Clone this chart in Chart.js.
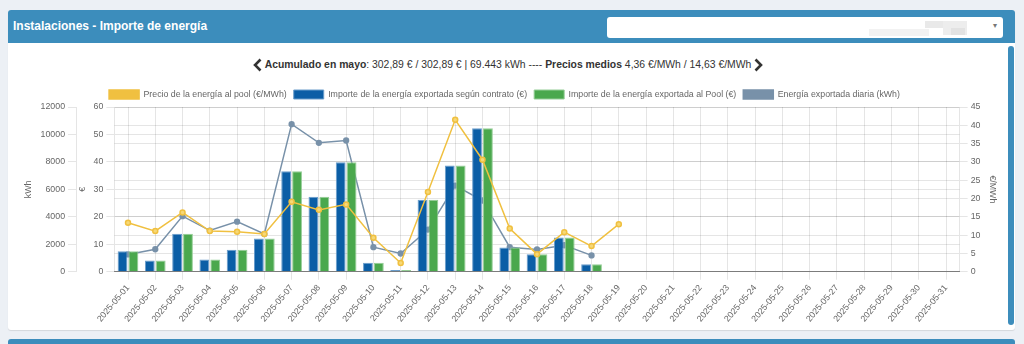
<!DOCTYPE html>
<html>
<head>
<meta charset="utf-8">
<script src="https://cdn.jsdelivr.net/npm/chart.js@4/dist/chart.umd.min.js"></script>
<style>
  body { margin: 0; background: #ecf0f5; font-family: 'Liberation Sans', Arial, sans-serif; width: 1024px; height: 344px; overflow: hidden; position: relative; }
  .box { position: absolute; left: 8px; top: 10px; width: 1007px; height: 320px; background: #fff; border-radius: 3px; box-shadow: 0 1px 1px rgba(0,0,0,0.1); }
  .box-header { height: 33px; background: #3c8dbc; border-radius: 3px 3px 0 0; position: relative; }
  .box-title { position: absolute; left: 5px; top: 9px; color: #fff; font-weight: bold; font-size: 12px; }
  .select { position: absolute; left: 599px; top: 7px; width: 396px; height: 21px; background: #fff; border-radius: 3px; }
  .select .caret { position: absolute; right: 6px; top: 4px; font-size: 8px; color: #777; }
  .blur { position: absolute; top: 4px; height: 7px; background: #e4e4e4; }
  .scroll { position: absolute; left: 1000px; top: 36px; width: 6px; height: 279px; background: #3c8dbc; border-radius: 3px; }
  .summary { position: absolute; left: 0; top: 48px; width: 1000px; text-align: center; font-size: 10.4px; color: #333; }
  .summary svg { vertical-align: -4px; margin: 0 3px; }
  .next-box { position: absolute; left: 8px; top: 339px; width: 1007px; height: 20px; background: #3c8dbc; border-radius: 3px; }
  #wrap { position: absolute; left: 8px; top: 81px; width: 1000px; height: 246px; }
</style>
</head>
<body>
<div class="box">
  <div class="box-header">
    <div class="box-title">Instalaciones - Importe de energía</div>
    <div class="select">
      <div class="blur" style="left:262px;width:60px;top:12px;background:#f2f2f2"></div>
      <div class="blur" style="left:318px;width:18px;background:#e9e9e9"></div>
      <div class="blur" style="left:336px;width:24px;height:14px;background:#ededed"></div>
      <div class="blur" style="left:344px;width:14px;top:11px;background:#e2e2e2"></div>
      <div class="caret">&#9662;</div>
    </div>
  </div>
  <div class="summary">
    <svg width="9" height="14" viewBox="0 0 9 14"><polyline points="7.5,1.5 2,7 7.5,12.5" fill="none" stroke="#333" stroke-width="2.6"/></svg><b>Acumulado en mayo</b>: 302,89 € / 302,89 € | 69.443 kWh ---- <b>Precios medios</b> 4,36 €/MWh / 14,63 €/MWh<svg width="9" height="14" viewBox="0 0 9 14"><polyline points="1.5,1.5 7,7 1.5,12.5" fill="none" stroke="#333" stroke-width="2.6"/></svg>
  </div>
  <div class="scroll"></div>
</div>
<div class="next-box"></div>
<div id="wrap"><canvas id="energyChart"></canvas></div>
<script>
const days = [
  '2025-05-01', '2025-05-02', '2025-05-03', '2025-05-04', '2025-05-05', '2025-05-06', '2025-05-07', '2025-05-08',
  '2025-05-09', '2025-05-10', '2025-05-11', '2025-05-12', '2025-05-13', '2025-05-14', '2025-05-15', '2025-05-16',
  '2025-05-17', '2025-05-18', '2025-05-19', '2025-05-20', '2025-05-21', '2025-05-22', '2025-05-23', '2025-05-24',
  '2025-05-25', '2025-05-26', '2025-05-27', '2025-05-28', '2025-05-29', '2025-05-30', '2025-05-31'
];

// €/MWh, pool price per day
const poolPrice = [13.4, 11.1, 16.2, 11.1, 10.9, 10.3, 19.1, 16.9, 18.4, 9.3, 2.4, 21.8, 41.5, 30.6, 11.8, 4.8, 10.8, 7.0, 13.0];

// € per day
const amountContract = [7.5, 4.1, 13.8, 4.5, 8.0, 12.1, 36.6, 27.3, 39.9, 3.3, 0.6, 26.2, 38.7, 52.3, 8.8, 6.4, 12.5, 2.7];
const amountPool = [7.5, 4.1, 13.8, 4.5, 8.0, 12.1, 36.6, 27.3, 39.9, 3.3, 0.6, 26.2, 38.7, 52.3, 8.8, 6.4, 12.5, 2.7];

// kWh exported per day
const energyKwh = [1260, 1640, 4050, 3000, 3650, 2750, 10750, 9390, 9560, 1790, 1330, 3070, 6280, 5190, 1790, 1620, 1930, 1190];

const tickFont = { family: "'Liberation Sans', Arial, sans-serif", size: 8.8 };
const gridColor = 'rgba(0,0,0,0.1)';

// nudge the legend a bit left and down after layout
const legendNudge = {
  id: 'legendNudge',
  afterLayout(chart) {
    const lg = chart.legend;
    if (!lg) return;
    lg.left -= 6; lg.right -= 6;
    lg.top += 2; lg.bottom += 2;
  }
};

const ctx = document.getElementById('energyChart').getContext('2d');
new Chart(ctx, {
  data: {
    labels: days,
    datasets: [{
      type: 'line',
      label: 'Precio de la energía al pool (€/MWh)',
      data: poolPrice,
      yAxisID: 'yPrice',
      borderColor: '#f0c040',
      backgroundColor: '#f0c040',
      pointBackgroundColor: '#f6d877',
      pointBorderColor: '#f0c040',
      borderWidth: 1.5,
      pointRadius: 2.5,
      tension: 0
    }, {
      type: 'bar',
      label: 'Importe de la energía exportada según contrato (€)',
      data: amountContract,
      yAxisID: 'yEur',
      backgroundColor: '#0b5ea6',
      borderColor: '#6a9dcb',
      borderWidth: 1
    }, {
      type: 'bar',
      label: 'Importe de la energía exportada al Pool (€)',
      data: amountPool,
      yAxisID: 'yEur',
      backgroundColor: '#4aa84d',
      borderColor: '#95cd97',
      borderWidth: 1
    }, {
      type: 'line',
      label: 'Energía exportada diaria (kWh)',
      data: energyKwh,
      yAxisID: 'yKwh',
      borderColor: '#7891a9',
      backgroundColor: '#7891a9',
      pointBackgroundColor: '#7891a9',
      borderWidth: 1.5,
      pointRadius: 2.4,
      tension: 0
    }]
  },
  options: {
    responsive: true,
    maintainAspectRatio: false,
    animation: false,
    layout: { padding: { left: 11, right: 6, top: 0, bottom: 0 } },
    plugins: {
      legend: {
        position: 'top',
        labels: { boxWidth: 30, boxHeight: 9, padding: 7, color: '#666', font: tickFont }
      },
      tooltip: { enabled: false }
    },
    datasets: {
      bar: { categoryPercentage: 0.8, barPercentage: 0.9 }
    },
    scales: {
      x: {
        offset: true,
        grid: { offset: false, color: gridColor },
        border: { color: 'rgba(0,0,0,0.4)' },
        ticks: { color: '#666', font: tickFont, minRotation: 50, maxRotation: 50, autoSkip: false }
      },
      yEur: {
        position: 'left',
        weight: 0,
        min: 0, max: 60,
        ticks: { stepSize: 10, color: '#666', font: tickFont },
        grid: { color: gridColor },
        border: { color: 'rgba(0,0,0,0.1)' },
        title: { display: true, text: '€', color: '#666', font: tickFont, padding: { top: 1, bottom: 3 } }
      },
      yKwh: {
        position: 'left',
        weight: 1,
        min: 0, max: 12000,
        ticks: { stepSize: 2000, color: '#666', font: tickFont, callback: v => String(v) },
        grid: { drawOnChartArea: false, color: gridColor },
        border: { color: 'rgba(0,0,0,0.1)' },
        title: { display: true, text: 'kWh', color: '#666', font: tickFont }
      },
      yPrice: {
        position: 'right',
        min: 0, max: 45,
        ticks: { stepSize: 5, color: '#666', font: tickFont },
        grid: { color: gridColor },
        border: { color: 'rgba(0,0,0,0.1)' },
        title: { display: true, text: '€/MWh', color: '#666', font: tickFont }
      }
    }
  },
  plugins: [legendNudge]
});
</script>
</body>
</html>
